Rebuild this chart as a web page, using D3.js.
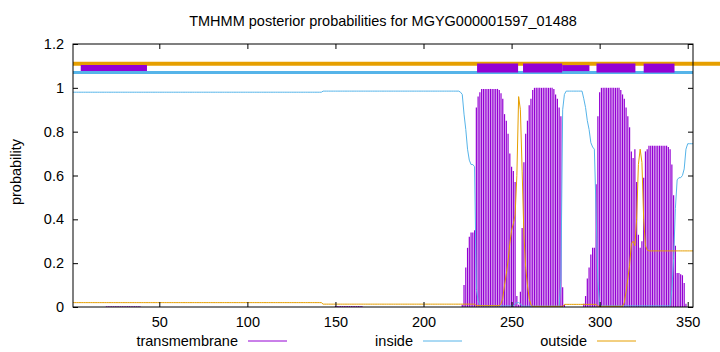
<!DOCTYPE html>
<html>
<head>
<meta charset="utf-8">
<script src="https://cdn.jsdelivr.net/npm/d3@7"></script>
<style>
  body { margin: 0; background: #fff; }
  text { font-family: "Liberation Sans", Arial, sans-serif; font-size: 14.5px; fill: #000; }
</style>
</head>
<body>
<script>
const chartTitle = 'TMHMM posterior probabilities for MGYG000001597_01488';
const seqLength = 353;
const xTicks = [50, 100, 150, 200, 250, 300, 350];
const yTicks = [0, 0.2, 0.4, 0.6, 0.8, 1, 1.2];
const seriesNames = ['transmembrane', 'inside', 'outside'];

// posterior probability per residue, residues 1..353
const transmembrane = [
  0,0,0,0,0,0,0,0,0,0, 0,0,0,0,0,0,0,0,0,0.003,
  0.003,0.003,0.003,0.003,0.003,0.003,0.003,0.003,0.003,0.003, 0.003,0.003,0.003,0.003,0.003,0.003,0.003,0.003,0.003,0,
  0,0,0,0,0,0,0,0,0,0, 0,0,0,0,0,0,0,0,0,0,
  0,0,0,0,0,0,0,0,0,0, 0,0,0,0,0,0,0,0,0,0,
  0,0,0,0,0,0,0,0,0,0, 0,0,0,0,0,0,0,0,0,0,
  0,0,0,0,0,0,0,0,0,0, 0,0,0,0,0,0,0,0,0,0,
  0,0,0,0,0,0,0,0,0,0, 0,0,0,0,0,0,0,0,0,0,
  0,0,0,0,0,0,0,0,0,0.004, 0.004,0.004,0.004,0.004,0.004,0.004,0.004,0.004,0.004,0.004,
  0.004,0.004,0.004,0.004,0.004,0,0,0,0,0, 0,0,0,0,0,0,0,0,0,0,
  0,0,0,0,0,0,0,0,0,0, 0,0,0,0,0,0,0,0,0,0,
  0,0,0,0,0,0,0,0,0,0, 0,0,0,0,0,0,0,0,0,0,
  0,0.01,0.10,0.18,0.27,0.32,0.34,0.34,0.35,0.91, 0.96,0.98,0.995,0.995,0.995,0.995,0.995,0.995,0.995,0.995,
  0.995,0.995,0.99,0.975,0.95,0.88,0.85,0.79,0.70,0.64, 0.62,0.57,0.05,0.01,0.07,0.36,0.66,0.79,0.85,0.92,
  0.95,0.99,1,1,1,1,1,1,1,1, 1,1,1,0.995,0.97,0.95,0.91,0.87,0.09,0.01,
  0,0,0,0,0,0,0,0,0,0, 0.015,0.05,0.13,0.18,0.24,0.27,0.27,0.56,0.87,0.98,
  1,1,1,1,1,1,1,1,1,1, 1,0.99,0.97,0.95,0.91,0.87,0.82,0.71,0.68,0.72,
  0.57,0.33,0.27,0.30,0.59,0.71,0.72,0.736,0.736,0.736, 0.736,0.736,0.736,0.736,0.736,0.736,0.736,0.736,0.73,0.72,
  0.65,0.51,0.28,0.155,0.155,0.15,0.145,0.11,0.015,0, 0,0,0
];

const inside = [
  0.98,0.98,0.98,0.98,0.98,0.98,0.98,0.98,0.98,0.98, 0.98,0.98,0.98,0.98,0.98,0.98,0.98,0.98,0.98,0.98,
  0.98,0.98,0.98,0.98,0.98,0.98,0.98,0.98,0.98,0.98, 0.98,0.98,0.98,0.98,0.98,0.98,0.98,0.98,0.98,0.98,
  0.98,0.98,0.98,0.98,0.98,0.98,0.98,0.98,0.98,0.98, 0.98,0.98,0.98,0.98,0.98,0.98,0.98,0.98,0.98,0.98,
  0.98,0.98,0.98,0.98,0.98,0.98,0.98,0.98,0.98,0.98, 0.98,0.98,0.98,0.98,0.98,0.98,0.98,0.98,0.98,0.98,
  0.98,0.98,0.98,0.98,0.98,0.98,0.98,0.98,0.98,0.98, 0.98,0.98,0.98,0.98,0.98,0.98,0.98,0.98,0.98,0.98,
  0.98,0.98,0.98,0.98,0.98,0.98,0.98,0.98,0.98,0.98, 0.98,0.98,0.98,0.98,0.98,0.98,0.98,0.98,0.98,0.98,
  0.98,0.98,0.98,0.98,0.98,0.98,0.98,0.98,0.98,0.98, 0.98,0.98,0.98,0.98,0.98,0.98,0.98,0.98,0.98,0.98,
  0.98,0.98,0.985,0.985,0.985,0.985,0.985,0.985,0.985,0.985, 0.985,0.985,0.985,0.985,0.985,0.985,0.985,0.985,0.985,0.985,
  0.985,0.985,0.985,0.985,0.985,0.985,0.985,0.985,0.985,0.985, 0.985,0.985,0.985,0.985,0.985,0.985,0.985,0.985,0.985,0.985,
  0.985,0.985,0.985,0.985,0.985,0.985,0.985,0.985,0.985,0.985, 0.985,0.985,0.985,0.985,0.985,0.985,0.985,0.985,0.985,0.985,
  0.985,0.985,0.985,0.985,0.985,0.985,0.985,0.985,0.985,0.985, 0.985,0.985,0.985,0.985,0.985,0.985,0.985,0.985,0.985,0.985,
  0.98,0.97,0.88,0.81,0.72,0.67,0.65,0.65,0.64,0.08, 0.03,0.01,0.005,0.005,0.005,0.005,0.005,0.005,0.005,0.005,
  0.005,0.005,0.005,0.005,0.005,0.005,0.005,0.005,0.005,0.005, 0.005,0.015,0.02,0.02,0.015,0.004,0.004,0.004,0.004,0.004,
  0.004,0.004,0.004,0.004,0.004,0.004,0.004,0.004,0.004,0.004, 0.004,0.004,0.004,0.004,0.004,0.004,0.004,0.12,0.90,0.97,
  0.985,0.985,0.985,0.985,0.985,0.985,0.985,0.985,0.985,0.985, 0.95,0.91,0.85,0.81,0.75,0.73,0.72,0.43,0.12,0.01,
  0.005,0.005,0.005,0.005,0.005,0.005,0.005,0.005,0.005,0.005, 0.005,0.005,0.005,0.005,0.005,0.005,0.005,0.005,0.005,0.005,
  0.005,0.005,0.005,0.005,0.005,0.005,0.005,0.005,0.005,0.005, 0.005,0.005,0.005,0.005,0.005,0.005,0.005,0.005,0.005,0.005,
  0.08,0.22,0.45,0.58,0.59,0.59,0.60,0.63,0.72,0.745, 0.745,0.745,0.745
];

const outside = [
  0.02,0.02,0.02,0.02,0.02,0.02,0.02,0.02,0.02,0.02, 0.02,0.02,0.02,0.02,0.02,0.02,0.02,0.02,0.02,0.02,
  0.02,0.02,0.02,0.02,0.02,0.02,0.02,0.02,0.02,0.02, 0.02,0.02,0.02,0.02,0.02,0.02,0.02,0.02,0.02,0.02,
  0.02,0.02,0.02,0.02,0.02,0.02,0.02,0.02,0.02,0.02, 0.02,0.02,0.02,0.02,0.02,0.02,0.02,0.02,0.02,0.02,
  0.02,0.02,0.02,0.02,0.02,0.02,0.02,0.02,0.02,0.02, 0.02,0.02,0.02,0.02,0.02,0.02,0.02,0.02,0.02,0.02,
  0.02,0.02,0.02,0.02,0.02,0.02,0.02,0.02,0.02,0.02, 0.02,0.02,0.02,0.02,0.02,0.02,0.02,0.02,0.02,0.02,
  0.02,0.02,0.02,0.02,0.02,0.02,0.02,0.02,0.02,0.02, 0.02,0.02,0.02,0.02,0.02,0.02,0.02,0.02,0.02,0.02,
  0.02,0.02,0.02,0.02,0.02,0.02,0.02,0.02,0.02,0.02, 0.02,0.02,0.02,0.02,0.02,0.02,0.02,0.02,0.02,0.02,
  0.02,0.02,0.013,0.013,0.013,0.013,0.013,0.013,0.013,0.013, 0.013,0.013,0.013,0.013,0.013,0.013,0.013,0.013,0.013,0.013,
  0.013,0.013,0.013,0.013,0.013,0.013,0.013,0.013,0.013,0.013, 0.013,0.013,0.013,0.013,0.013,0.013,0.013,0.013,0.013,0.013,
  0.013,0.013,0.013,0.013,0.013,0.013,0.013,0.013,0.013,0.013, 0.013,0.013,0.013,0.013,0.013,0.013,0.013,0.013,0.013,0.013,
  0.013,0.013,0.013,0.013,0.013,0.013,0.013,0.013,0.013,0.013, 0.013,0.013,0.013,0.013,0.013,0.013,0.013,0.013,0.013,0.013,
  0.013,0.013,0.013,0.013,0.013,0.013,0.013,0.013,0.013,0.006, 0.006,0.006,0.006,0.006,0.006,0.006,0.006,0.006,0.006,0.006,
  0.006,0.006,0.006,0.015,0.04,0.10,0.15,0.21,0.29,0.35, 0.38,0.42,0.60,0.96,0.90,0.62,0.33,0.18,0.10,0.04,
  0.01,0.003,0.003,0.003,0.003,0.003,0.003,0.003,0.003,0.003, 0.003,0.003,0.003,0.003,0.003,0.003,0.003,0.003,0.003,0.012,
  0.012,0.012,0.012,0.012,0.012,0.012,0.012,0.012,0.012,0.012, 0.012,0.012,0.012,0.012,0.012,0.012,0.012,0.012,0.003,0.003,
  0.003,0.003,0.003,0.003,0.003,0.003,0.003,0.003,0.003,0.003, 0.003,0.003,0.003,0.02,0.07,0.13,0.19,0.29,0.30,0.28,
  0.40,0.65,0.72,0.66,0.40,0.28,0.26,0.256,0.256,0.256, 0.256,0.256,0.256,0.256,0.256,0.256,0.256,0.256,0.256,0.256,
  0.256,0.256,0.256,0.256,0.256,0.256,0.256,0.256,0.256,0.256, 0.256,0.256,0.256
];

// predicted topology drawn above the curves, [from residue, to residue]
const outsideLevel = 1.11;
const tmLevel = 1.09;
const insideLevel = 1.07;
const outsideBars = [[1, 370]];
const insideBars = [[1, 353]];
const tmBarsThick = [[230.4, 253.7], [256.5, 278.7], [298.2, 320.3], [325, 342.5]];
const tmBarsThin = [[5.4, 43], [278.7, 294.2]];

const colors = ['#9400D3', '#56B4E9', '#E69F00'];

const W = 720, H = 352;
const plotLeft = 73, plotRight = 693, plotTop = 44, plotBottom = 307;

const svg = d3.select('body')
  .append('svg')
  .attr('width', W)
  .attr('height', H);

const xScale = d3.scaleLinear().domain([1, seqLength]).range([plotLeft, plotRight]);
const yScale = d3.scaleLinear().domain([0, 1.2]).range([plotBottom, plotTop]);

// impulses
svg.append('g').selectAll('line')
  .data(transmembrane.map((v, i) => [i + 1, v]).filter(d => d[1] > 0))
  .enter()
  .append('line')
  .attr('x1', d => xScale(d[0]))
  .attr('x2', d => xScale(d[0]))
  .attr('y1', yScale(0))
  .attr('y2', d => yScale(d[1]))
  .attr('stroke', colors[0])
  .attr('stroke-width', 1.2);

const line = d3.line()
  .x((d, i) => xScale(i + 1))
  .y(d => yScale(d));

svg.append('path')
  .attr('d', line(inside))
  .attr('fill', 'none')
  .attr('stroke', colors[1])
  .attr('stroke-width', 1);

svg.append('path')
  .attr('d', line(outside))
  .attr('fill', 'none')
  .attr('stroke', colors[2])
  .attr('stroke-width', 1);

// topology bars
function bars(list, level, color, w) {
  svg.append('g').selectAll('line')
    .data(list)
    .enter()
    .append('line')
    .attr('x1', d => xScale(d[0]))
    .attr('x2', d => xScale(d[1]))
    .attr('y1', yScale(level))
    .attr('y2', yScale(level))
    .attr('stroke', color)
    .attr('stroke-width', w);
}
bars(outsideBars, outsideLevel, colors[2], 4);
bars(insideBars, insideLevel, colors[1], 3);
bars(tmBarsThin, tmLevel, colors[0], 6);
bars(tmBarsThick, tmLevel, colors[0], 9);

// axes, ticks on all four sides pointing inward
const xAxis = d3.axisBottom(xScale).tickValues(xTicks).tickSizeInner(-5).tickSizeOuter(0).tickPadding(10);
const yAxis = d3.axisLeft(yScale).tickValues(yTicks).tickSizeInner(-5).tickSizeOuter(0).tickPadding(9)
  .tickFormat(d3.format('~g'));

svg.append('g').attr('transform', `translate(0,${plotBottom})`).call(xAxis);
svg.append('g').attr('transform', `translate(${plotLeft},0)`).call(yAxis);
svg.append('g').attr('transform', `translate(0,${plotTop})`)
  .call(d3.axisTop(xScale).tickValues(xTicks).tickSizeInner(-5).tickSizeOuter(0).tickFormat(''));
svg.append('g').attr('transform', `translate(${plotRight},0)`)
  .call(d3.axisRight(yScale).tickValues(yTicks).tickSizeInner(-5).tickSizeOuter(0).tickFormat(''));

svg.selectAll('.domain').remove();
svg.selectAll('.tick text').attr('font-size', 14.5).attr('font-family', '"Liberation Sans", Arial, sans-serif');

svg.append('rect')
  .attr('x', plotLeft).attr('y', plotTop)
  .attr('width', plotRight - plotLeft).attr('height', plotBottom - plotTop)
  .attr('fill', 'none').attr('stroke', '#000').attr('stroke-width', 1);

svg.append('text')
  .attr('x', (plotLeft + plotRight) / 2)
  .attr('y', 26)
  .attr('text-anchor', 'middle')
  .text(chartTitle);

svg.append('text')
  .attr('transform', 'translate(21,172) rotate(-90)')
  .attr('text-anchor', 'middle')
  .text('probability');

// key
const keyX = [238, 413, 587];
const key = svg.append('g').selectAll('g')
  .data(seriesNames)
  .enter()
  .append('g')
  .attr('transform', (d, i) => `translate(${keyX[i]},341)`);
key.append('text')
  .attr('text-anchor', 'end')
  .attr('dy', '0.35em')
  .text(d => d);
key.append('line')
  .attr('x1', 10).attr('x2', 49)
  .attr('stroke', (d, i) => colors[i])
  .attr('stroke-width', 1);
</script>
</body>
</html>
